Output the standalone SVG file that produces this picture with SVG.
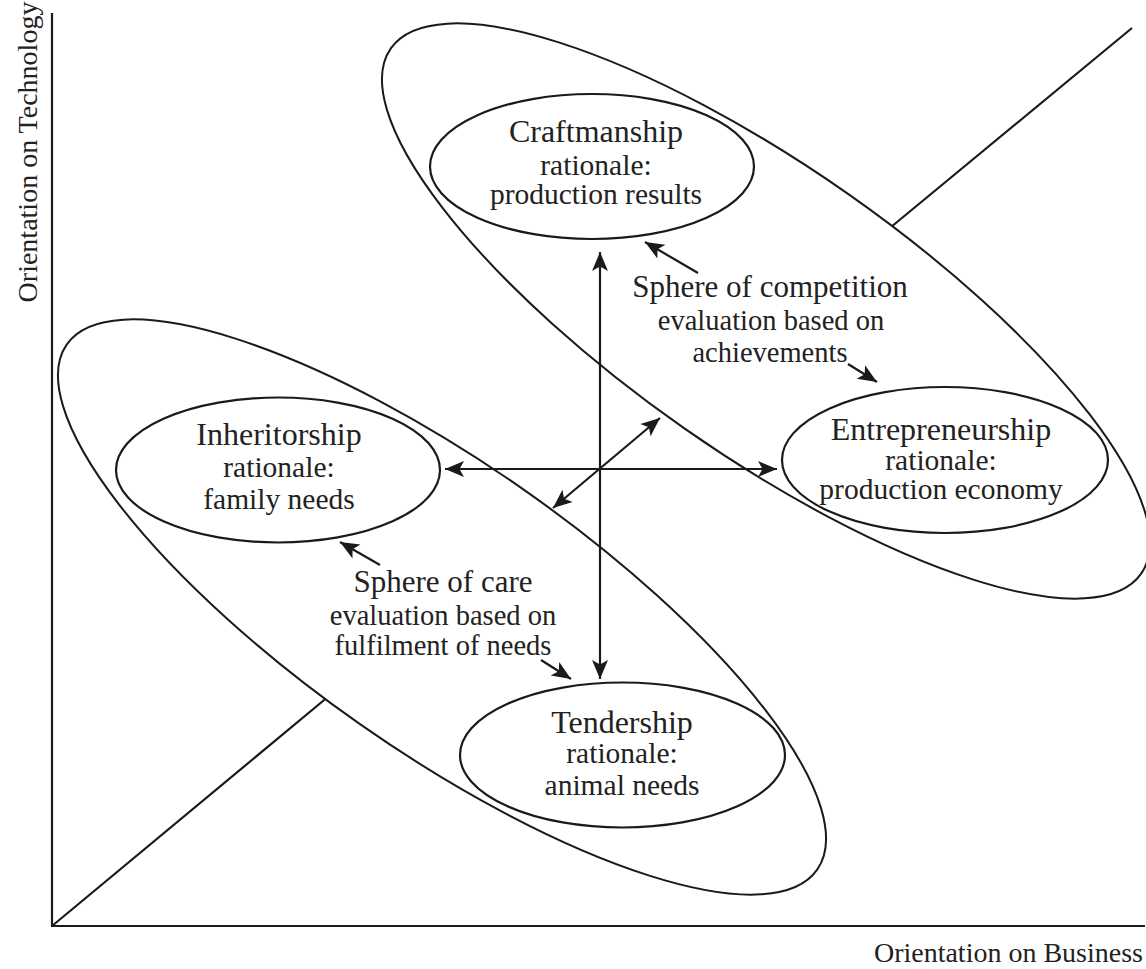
<svg xmlns="http://www.w3.org/2000/svg" width="1146" height="969" viewBox="0 0 1146 969">
  <style>
    .ln { stroke: #1a1a1a; stroke-width: 2.2; fill: none; }
    .big { stroke: #1a1a1a; stroke-width: 2; fill: #ffffff; }
    .node { stroke: #1a1a1a; stroke-width: 2.2; fill: #ffffff; }
    .arr { stroke: #1a1a1a; stroke-width: 2.2; fill: none; marker-start: url(#ah); marker-end: url(#ah); }
    .arr1 { stroke: #1a1a1a; stroke-width: 2.2; fill: none; marker-end: url(#ah); }
    text { font-family: "Liberation Serif", "Times New Roman", serif; fill: #222222; text-anchor: middle; }
    .t { font-size: 32px; }
    .s { font-size: 29.5px; }
    .st { font-size: 31px; }
    .ss { font-size: 28.5px; }
    .ax { font-size: 28px; }
  </style>
  <defs>
    <marker id="ah" markerUnits="userSpaceOnUse" markerWidth="24" markerHeight="20" viewBox="-20 -10 22 20" refX="0" refY="0" orient="auto-start-reverse">
      <path d="M0,0 L-19,-8 L-14.5,0 L-19,8 Z" fill="#1a1a1a" stroke="none"/>
    </marker>
  </defs>
  <rect x="0" y="0" width="1146" height="969" fill="#ffffff"/>

  <g id="axes">
    <line class="ln" x1="52" y1="13" x2="52" y2="926"/>
    <line class="ln" x1="51" y1="926" x2="1145" y2="926"/>
    <line class="ln" x1="52" y1="926" x2="335" y2="691"/>
    <line class="ln" x1="885" y1="232" x2="1132" y2="28"/>
    <text class="ax" transform="translate(37,152) rotate(-90)">Orientation on Technology</text>
    <text class="ax" x="1143" y="962" style="text-anchor:end">Orientation on Business</text>
  </g>

  <g id="sphere-care">
    <ellipse class="big" cx="442" cy="607" rx="458" ry="143" transform="rotate(35 442 607)"/>
  </g>
  <g id="sphere-competition">
    <ellipse class="big" cx="766" cy="311" rx="458" ry="143" transform="rotate(35 766 311)"/>
  </g>

  <g id="craftmanship">
    <ellipse class="node" cx="592" cy="166.5" rx="162" ry="72.5"/>
    <text class="t" x="596" y="142">Craftmanship</text>
    <text class="s" x="596" y="175">rationale:</text>
    <text class="s" x="596" y="204">production results</text>
  </g>
  <g id="inheritorship">
    <ellipse class="node" cx="278" cy="470" rx="162" ry="72.5"/>
    <text class="t" x="279" y="445">Inheritorship</text>
    <text class="s" x="279" y="477">rationale:</text>
    <text class="s" x="279" y="509">family needs</text>
  </g>
  <g id="entrepreneurship">
    <ellipse class="node" cx="945" cy="460" rx="163" ry="73"/>
    <text class="t" x="941" y="440">Entrepreneurship</text>
    <text class="s" x="941" y="470">rationale:</text>
    <text class="s" x="941" y="499">production economy</text>
  </g>
  <g id="tendership">
    <ellipse class="node" cx="622.5" cy="755" rx="162.5" ry="72.5"/>
    <text class="t" x="622" y="733">Tendership</text>
    <text class="s" x="622" y="763">rationale:</text>
    <text class="s" x="622" y="795">animal needs</text>
  </g>

  <g id="label-competition">
    <text class="st" x="770" y="297">Sphere of competition</text>
    <text class="ss" x="771" y="330">evaluation based on</text>
    <text class="ss" x="770" y="362">achievements</text>
  </g>
  <g id="label-care">
    <text class="st" x="443" y="592">Sphere of care</text>
    <text class="ss" x="443" y="625">evaluation based on</text>
    <text class="ss" x="443" y="655">fulfilment of needs</text>
  </g>

  <g id="connectors">
    <line class="arr" x1="600" y1="252" x2="600" y2="679"/>
    <line class="arr" x1="445" y1="469" x2="777" y2="469"/>
    <line class="arr" x1="553" y1="508" x2="660" y2="418"/>
    <line class="arr1" x1="698" y1="273" x2="645" y2="242"/>
    <line class="arr1" x1="848" y1="364" x2="877" y2="382"/>
    <line class="arr1" x1="380" y1="565" x2="340" y2="542"/>
    <line class="arr1" x1="541" y1="660" x2="571" y2="679"/>
  </g>
</svg>
